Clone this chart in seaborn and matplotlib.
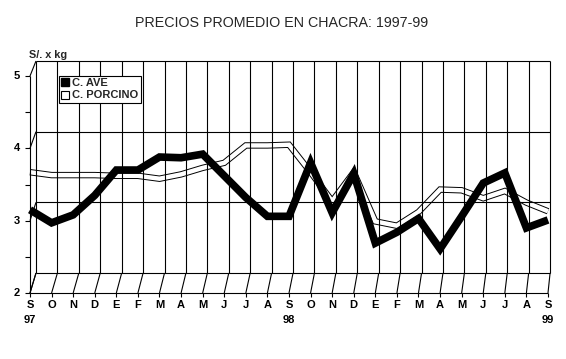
import numpy as np
import pandas as pd
import matplotlib
matplotlib.use("Agg")
import matplotlib.pyplot as plt
import seaborn as sns
from matplotlib.lines import Line2D

# ---------------- data ----------------
months = ["S", "O", "N", "D", "E", "F", "M", "A", "M", "J", "J", "A",
          "S", "O", "N", "D", "E", "F", "M", "A", "M", "J", "J", "A", "S"]
year_labels = ["97", "98", "99"]
year_positions = [0, 12, 24]
ave = [3.15, 2.97, 3.08, 3.35, 3.70, 3.70, 3.88, 3.87, 3.92, 3.62, 3.32, 3.06,
       3.06, 3.80, 3.11, 3.65, 2.69, 2.84, 3.03, 2.61, 3.06, 3.52, 3.66, 2.90, 3.01]
porcino = [3.67, 3.63, 3.63, 3.63, 3.62, 3.62, 3.58, 3.64, 3.73, 3.80, 4.04, 4.04,
           4.05, 3.67, 3.27, 3.67, 2.99, 2.93, 3.12, 3.43, 3.42, 3.31, 3.41, 3.25, 3.13]
y_ticks = [2, 3, 4, 5]
y_minor = [2.5, 3.5, 4.5]
series_names = ["C. AVE", "C. PORCINO"]
title = "PRECIOS PROMEDIO EN CHACRA: 1997-99"
y_label = "S/. x kg"

df = pd.DataFrame({"idx": np.arange(len(months)), "ave": ave, "porcino": porcino})

# ---------------- geometry (pixels) ----------------
W, H = 566, 359
X0, DX = 30.0, 21.583      # front plane
Y2, DY = 293.0, 72.33
BX0, BDX = 36.0, 21.42     # back plane
BY2, BDY = 273.0, 70.67


def px2data(px, py):
    return (px - X0) / DX, 2 + (Y2 - py) / DY


def back(i, v):
    px = BX0 + i * BDX
    py = BY2 - (v - 2) * BDY
    return px2data(px, py)


sns.set_style("white")
plt.rcParams["font.family"] = ["Liberation Sans", "DejaVu Sans"]

fig = plt.figure(figsize=(W / 100, H / 100), dpi=100)
ax = fig.add_axes([0, 0, 1, 1])
ax.set_xlim(-X0 / DX, (W - X0) / DX)
ax.set_ylim(2 - (H - Y2) / DY, 2 + Y2 / DY)
ax.axis("off")

n = len(months)
gk = dict(color="black", lw=0.8, zorder=2, solid_capstyle="butt")

# back wall verticals and horizontals
for i in range(n):
    (x1, y1), (x2, y2) = back(i, 2), back(i, 5)
    ax.plot([x1, x2], [y1, y2], **gk)
for v in y_ticks:
    (x1, y1), (x2, y2) = back(0, v), back(n - 1, v)
    ax.plot([x1, x2], [y1, y2], **gk)
# floor depth lines
for i in range(n):
    bx, by = back(i, 2)
    ax.plot([i, bx], [2, by], **gk)
# left wall depth lines
for v in y_ticks:
    bx, by = back(0, v)
    ax.plot([0, bx], [v, by], **gk)
# front axes
ax.plot([0, 0], [2, 5], **gk)
ax.plot([0, n - 1], [2, 2], **gk)
tick_dx = 5 / DX
tick_dy = 4 / DY
for v in y_ticks + y_minor:
    ax.plot([-tick_dx, 0], [v, v], **gk)
for i in range(n):
    ax.plot([i, i], [2, 2 - tick_dy], **gk)

# series
sns.lineplot(data=df, x="idx", y="porcino", ax=ax, color="black", linewidth=4.6,
             zorder=1, sort=False, solid_joinstyle="miter", solid_capstyle="butt")
sns.lineplot(data=df, x="idx", y="porcino", ax=ax, color="white", linewidth=3.2,
             zorder=1.5, sort=False, solid_joinstyle="miter", solid_capstyle="butt")
sns.lineplot(data=df, x="idx", y="ave", ax=ax, color="black", linewidth=5.5,
             zorder=4, sort=False, solid_joinstyle="miter", solid_capstyle="butt")

# tick labels
tf = dict(fontsize=8, fontweight="bold", color="black")
for v in y_ticks:
    x, _ = px2data(20, 0)
    ax.text(x, v, str(v), ha="right", va="center", **tf)
_, ym = px2data(0, 305)
_, yy = px2data(0, 320)
for i, m in enumerate(months):
    ax.text(i, ym, m, ha="center", va="center", **tf)
for p, lab in zip(year_positions, year_labels):
    ax.text(p, yy, lab, ha="center", va="center", **tf)

# y label
lx, ly = px2data(29, 55)
ax.text(lx, ly, y_label, ha="left", va="center", fontsize=7.8, fontweight="bold")

# title
fig.text(282 / W, 1 - 23 / H, title, ha="center", va="center", fontsize=10.3)

# legend
handles = [
    Line2D([], [], marker="s", linestyle="none", markersize=6,
           markerfacecolor="black", markeredgecolor="black"),
    Line2D([], [], marker="s", linestyle="none", markersize=6,
           markerfacecolor="white", markeredgecolor="black", markeredgewidth=0.8),
]
leg = ax.legend(handles, series_names, loc="upper left",
                bbox_to_anchor=(59 / W, 1 - 76 / H), bbox_transform=fig.transFigure,
                borderaxespad=0, fancybox=False, framealpha=1, edgecolor="black",
                prop=dict(family=["Liberation Sans", "DejaVu Sans"], weight="bold", size=8),
                handlelength=0.7, handletextpad=0.3, borderpad=0.2, labelspacing=0.2)
leg.get_frame().set_linewidth(0.8)
leg.set_zorder(6)

fig.savefig("out.png", dpi=100, facecolor="white")
